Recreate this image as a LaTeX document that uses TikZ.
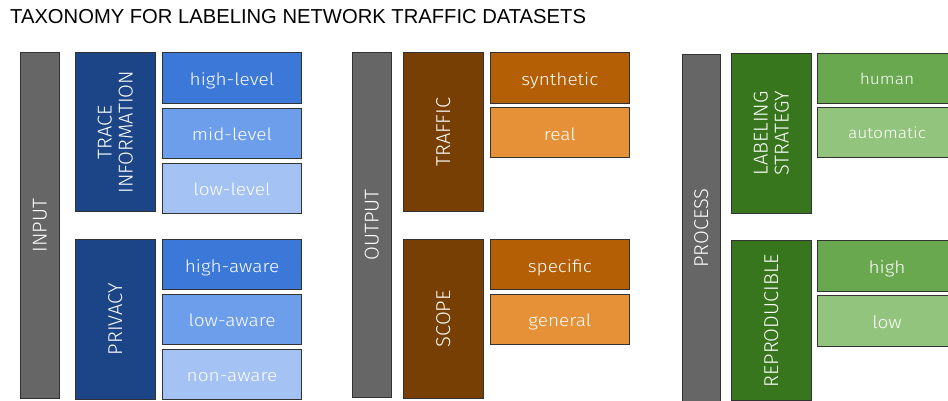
\documentclass[tikz,border=0pt]{standalone}
\usepackage{fontspec}
\setmainfont{Liberation Sans}
\newfontfamily\lblfont[FakeStretch=1.12]{Fira Sans Light}
\newfontfamily\catfont{Fira Sans Light}
\definecolor{cgray}{HTML}{666666}
\definecolor{bdark}{HTML}{1C4587}
\definecolor{bone}{HTML}{3C78D8}
\definecolor{btwo}{HTML}{6D9EEB}
\definecolor{bthree}{HTML}{A4C2F4}
\definecolor{odark}{HTML}{783F04}
\definecolor{oone}{HTML}{B45F06}
\definecolor{otwo}{HTML}{E69138}
\definecolor{gdark}{HTML}{38761D}
\definecolor{gone}{HTML}{6AA84F}
\definecolor{gtwo}{HTML}{93C47D}
\tikzset{
  box/.style={draw=black!80, line width=0.7pt, text=white, inner sep=0pt, align=center,
    font=\lblfont\fontsize{17}{19}\selectfont},
  barbox/.style={box, fill=cgray, rotate=90, minimum height=38.5pt,
    font=\catfont\fontsize{20}{21}\selectfont},
  catbox/.style={box, rotate=90, minimum height=80.5pt, minimum width=159pt,
    font=\catfont\fontsize{20}{21}\selectfont},
  leafbox/.style={box, minimum width=139.2pt, minimum height=50.3pt,
    text height=16pt, text depth=0.6pt},
  smallleaf/.style={leafbox, font=\lblfont\fontsize{15.5}{17}\selectfont,
    text height=13pt, text depth=1pt},
  titletext/.style={anchor=base west, inner sep=0pt, font=\fontsize{20.2}{24}\selectfont}
}
\begin{document}
\begin{tikzpicture}[x=1pt,y=-1pt]
\useasboundingbox (0,0) rectangle (948,401);
\clip (0,0) rectangle (948,401);
\node[titletext] (title) at (10,24) {TAXONOMY FOR LABELING NETWORK TRAFFIC DATASETS};
% left column
\node[barbox, minimum width=346pt] (input) at (40,225.5) {INPUT};
\node[catbox, fill=bdark] (trace) at (115.3,132.2) {TRACE\\INFORMATION};
\node[catbox, fill=bdark, minimum width=160pt] (privacy) at (115.3,319.2) {PRIVACY};
\node[leafbox, fill=bone] (highlevel) at (232,78) {high-level};
\node[leafbox, fill=btwo] (midlevel) at (232,133.3) {mid-level};
\node[leafbox, fill=bthree] (lowlevel) at (232,188.3) {low-level};
\node[leafbox, fill=bone] (highaware) at (232,264.3) {high-aware};
\node[leafbox, fill=btwo] (lowaware) at (232,319.2) {low-aware};
\node[leafbox, fill=bthree] (nonaware) at (232,374.2) {non-aware};
% middle column
\node[barbox, minimum width=345pt] (output) at (371.7,225.2) {OUTPUT};
\node[catbox, fill=odark] (traffic) at (443.2,132.2) {TRAFFIC};
\node[catbox, fill=odark] (scope) at (443.2,318.8) {SCOPE};
\node[leafbox, fill=oone] (synthetic) at (559.8,78) {synthetic};
\node[leafbox, fill=otwo] (real) at (559.8,132.5) {real};
\node[leafbox, fill=oone] (specific) at (559.8,264.3) {specific};
\node[leafbox, fill=otwo] (general) at (559.8,319.2) {general};
% right column
\node[barbox, minimum width=348pt] (process) at (701.2,228) {PROCESS};
\node[catbox, fill=gdark, minimum width=160pt] (labeling) at (771.2,133.3) {LABELING\\STRATEGY};
\node[catbox, fill=gdark, minimum width=160pt] (reproducible) at (771.2,320.7) {REPRODUCIBLE};
\node[smallleaf, fill=gone] (human) at (887,78.3) {human};
\node[smallleaf, fill=gtwo] (automatic) at (887,132.7) {automatic};
\node[leafbox, fill=gone] (high) at (887,265.7) {high};
\node[leafbox, fill=gtwo] (low) at (887,320.8) {low};
\end{tikzpicture}
\end{document}
